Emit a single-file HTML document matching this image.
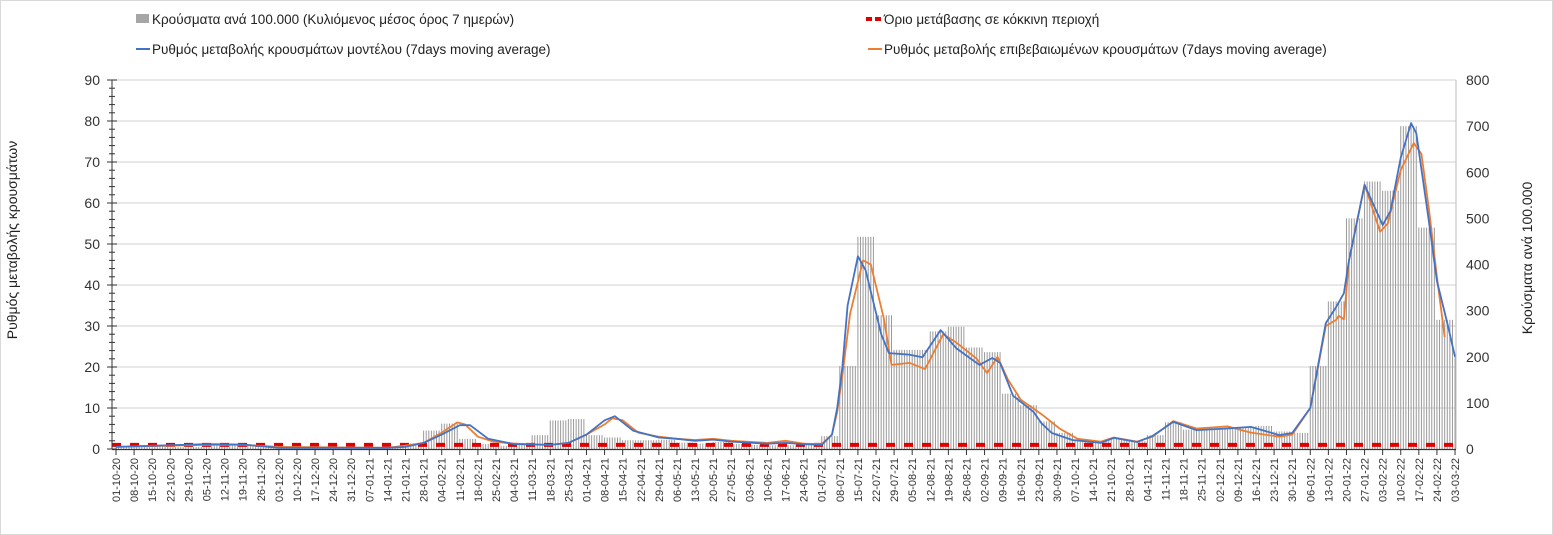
<!DOCTYPE html>
<html><head><meta charset="utf-8">
<style>
html,body{margin:0;padding:0;background:#fff;}
svg{display:block;font-family:"Liberation Sans",Arial,sans-serif;}
</style></head>
<body>
<svg id="chart" width="1553" height="535" viewBox="0 0 1553 535" xmlns="http://www.w3.org/2000/svg">
<rect x="0.5" y="0.5" width="1552" height="534" fill="#fff" stroke="#d9d9d9"/>
<g id="grid"></g>
<g id="bars"></g>
<g id="lines"></g>
<g id="axes"></g>
<g font-size="13.5" fill="#222">
 <rect x="136" y="14" width="13" height="9" fill="#a6a6a6"/>
 <text x="152" y="24">Κρούσματα ανά 100.000 (Κυλιόμενος μέσος όρος 7 ημερών)</text>
 <line x1="136" y1="49" x2="150" y2="49" stroke="#4472c4" stroke-width="2"/>
 <text x="152" y="54">Ρυθμός μεταβολής κρουσμάτων μοντέλου (7days moving average)</text>
 <line x1="866" y1="19" x2="882" y2="19" stroke="#e00000" stroke-width="4" stroke-dasharray="6,3"/>
 <text x="884" y="24">Όριο μετάβασης σε κόκκινη περιοχή</text>
 <line x1="868" y1="49" x2="882" y2="49" stroke="#ed7d31" stroke-width="2"/>
 <text x="884" y="54">Ρυθμός μεταβολής επιβεβαιωμένων κρουσμάτων (7days moving average)</text>
</g>
<text transform="translate(17,240) rotate(-90)" text-anchor="middle" font-size="14" fill="#222">Ρυθμός μεταβολής κρουσμάτων</text>
<text transform="translate(1532,258) rotate(-90)" text-anchor="middle" font-size="14" fill="#222">Κρούσματα ανά 100.000</text>
</svg>
<script>
// ---- data ----
const startDate = [2020, 10, 1]; // 01-10-2020
const totalDays = 518;
const leftTicks = [0,10,20,30,40,50,60,70,80,90];
const rightTicks = [0,100,200,300,400,500,600,700,800];
// weekly cases per 100k (right axis), one value per 7-day block
const barVals = [5,7,6,4,5,9,10,7,5,3,2,2,2,2,3,5,12,40,55,22,11,7,9,30,62,65,30,25,19,19,20,14,12,15,11,9,8,8,11,28,180,460,290,215,215,255,265,220,210,120,95,60,35,20,17,22,17,30,58,42,45,46,48,50,38,35,180,320,500,580,560,700,480,280,200];
// model rate (left axis): day index and value
const blueDays = [0,35,49,63,105,112,119,126,133,137,144,154,168,175,182,189,193,200,210,217,224,231,238,252,259,266,273,277,279,281,283,287,290,296,299,307,312,319,325,334,339,342,347,355,358,362,370,381,386,395,401,409,418,430,439,450,455,462,468,472,475,477,483,490,493,497,501,503,508,511,515,518];
const blueVals = [0.5,1.2,1.1,0.3,0.3,0.5,1.5,3.5,5.8,5.8,2.5,1.2,1,1.5,3.5,7,8,4.5,2.8,2.5,2,2.3,1.8,1.3,1.5,1.2,1,3.5,10,20,35,47,43.6,28,23.4,23,22.4,29,24.6,20.5,22.2,21,13,9,6.3,3.9,2.2,1.5,2.7,1.7,3.2,6.6,4.6,5,5.4,3.4,3.9,10,30.7,34.6,38,46,64.4,54.6,58,71,79.5,77,55,41,30.7,22.5];
// confirmed rate (left axis)
const orangeDays = [0,35,49,63,105,112,119,126,132,135,140,146,154,168,175,182,189,192,196,202,210,217,224,231,238,252,259,266,273,277,279,281,284,289,292,297,300,307,313,320,325,333,337,341,345,350,358,365,372,381,386,395,401,409,418,430,439,450,455,462,468,472,473,475,477,483,489,492,497,502,505,508,511,514];
const orangeVals = [0.5,1,1,0.5,0.3,0.8,1.5,4,6.5,6,3,1.8,1.3,1,1.5,3.5,6,7.5,7,4,3,2.5,2.2,2.5,2,1.5,2,1.3,1.2,3.5,9,18,33,46,45,32,20.5,21,19.5,28,26,22,18.5,22.5,17,12,8.5,5,2.5,1.8,2.8,1.8,3,6.8,5,5.5,4,3,3.5,10,30,31.5,32.5,31.6,46,64.5,53,55,68,74.6,72,58,42,27.3];
const thresholdVal = 1;

// ---- scales ----
const X0 = 116, DX = 2.585, Y0 = 449, YL = 369/90, YR = 369/800;
const xs = d => X0 + d*DX;
const yl = v => Y0 - v*YL;
const yr = v => Y0 - v*YR;
const NS = 'http://www.w3.org/2000/svg';
function mk(tag, parent, attrs){ const e=document.createElementNS(NS,tag); for(const k in attrs) e.setAttribute(k,attrs[k]); parent.appendChild(e); return e; }

const grid = document.getElementById('grid');
leftTicks.forEach(t=>{ if(t===0) return;
  const l = mk('line',grid,{x1:112,x2:1456,y1:yl(t),y2:yl(t),stroke:'#d9d9d9','stroke-width':1.2});
  
  
});

// bars
const bars = document.getElementById('bars');
for(let d=0; d<=totalDays; d++){
  const v = barVals[Math.min(Math.floor(d/7), barVals.length-1)];
  const r = mk('rect',bars,{x:xs(d)-0.5,y:yr(v),width:1,height:Y0-yr(v),fill:'#9a9a9a'});
  
  
}

// threshold
const axes = document.getElementById('axes');
const th = mk('line',document.getElementById('lines'),{x1:112,x2:1456,y1:yl(thresholdVal),y2:yl(thresholdVal),stroke:'#e00000','stroke-width':4,'stroke-dasharray':'9,9'});



function line(days, vals, color, name){
  const pts = days.map((d,i)=>xs(d).toFixed(1)+','+yl(vals[i]).toFixed(1)).join(' ');
  const p = mk('polyline',document.getElementById('lines'),{points:pts,fill:'none',stroke:color,'stroke-width':1.8,'stroke-linejoin':'round'});
  
  
}
line(orangeDays, orangeVals, '#ed7d31', 'confirmed-rate-line');
line(blueDays, blueVals, '#4472c4', 'model-rate-line');

// axes
const la = mk('line',axes,{x1:112,x2:112,y1:80,y2:449,stroke:'#333','stroke-width':1});
 
const ra = mk('line',axes,{x1:1456,x2:1456,y1:80,y2:449,stroke:'#bbb','stroke-width':1});
 
const xa = mk('line',axes,{x1:112,x2:1456,y1:449.5,y2:449.5,stroke:'#333','stroke-width':1.2});
 
for(let v=0; v<=90; v+=2){
  const major = v%10===0;
  mk('line',axes,{x1:major?107:109,x2:major?117:115,y1:yl(v),y2:yl(v),stroke:'#333','stroke-width':1});
}
leftTicks.forEach(t=>{
  const tx = mk('text',axes,{x:100,y:yl(t)+5,'text-anchor':'end','font-size':14,fill:'#333'});
  tx.textContent = t;
  
  
});
rightTicks.forEach(t=>{
  const tx = mk('text',axes,{x:1466,y:yr(t)+5,'font-size':14,fill:'#333'});
  tx.textContent = t;
  
  
});
const pad = n => (n<10?'0':'')+n;
for(let d=0; d<=totalDays; d+=7){
  const dt = new Date(Date.UTC(startDate[0], startDate[1]-1, startDate[2]+d));
  const lbl = pad(dt.getUTCDate())+'-'+pad(dt.getUTCMonth()+1)+'-'+String(dt.getUTCFullYear()).slice(2);
  const x = xs(d);
  mk('line',axes,{x1:x,x2:x,y1:449,y2:455,stroke:'#333','stroke-width':1});
  const tx = mk('text',axes,{transform:`translate(${(x+4).toFixed(1)},458) rotate(-90)`,'text-anchor':'end','font-size':11,fill:'#333'});
  tx.textContent = lbl;
  
  
}
</script>
</body></html>
